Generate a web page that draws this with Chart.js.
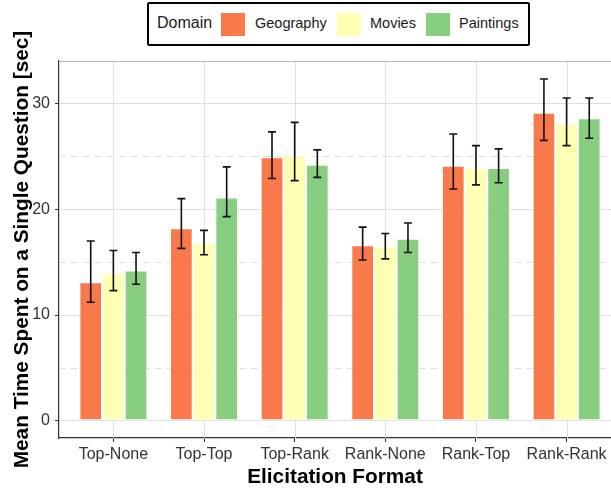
<!DOCTYPE html>
<html>
<head>
<meta charset="utf-8">
<script src="https://cdn.jsdelivr.net/npm/chart.js@4"></script>
<style>
  html, body { margin: 0; padding: 0; overflow: hidden; background: #fff; }
  #wrap { position: relative; width: 611px; height: 490px; }
  #legend {
    position: absolute; left: 147px; top: 2px; width: 379px; height: 40px;
    border: 2px solid #000; border-radius: 2px; background: #fff;
    font-family: "Liberation Sans", Arial, Helvetica, sans-serif; color: #1a1a1a;
  }
  #legend span { position: absolute; white-space: nowrap; }
  #legend .sw { width: 24px; height: 23px; top: 9px; }
  #legend .lbl { font-size: 14.5px; top: 11px; }
</style>
</head>
<body>
<div id="wrap">
  <canvas id="chart" width="611" height="490"></canvas>
  <div id="legend">
    <span style="left:8px; top:10px; font-size:16px;">Domain</span>
    <span class="sw" style="left:72px; background:#F8794A;"></span>
    <span class="lbl" style="left:106px;">Geography</span>
    <span class="sw" style="left:188px; background:#FFFFB3;"></span>
    <span class="lbl" style="left:221px;">Movies</span>
    <span class="sw" style="left:277px; background:#88CE80;"></span>
    <span class="lbl" style="left:310px;">Paintings</span>
  </div>
</div>
<script>
'use strict';

// 범주 / 값
const categories = ['Top-None', 'Top-Top', 'Top-Rank', 'Rank-None', 'Rank-Top', 'Rank-Rank'];
const seriesNames = ['Geography', 'Movies', 'Paintings'];

const geography = [13.1, 18.2, 24.9, 16.6, 24.1, 29.1];
const geoLow    = [11.2, 16.3, 22.9, 15.2, 21.9, 26.5];
const geoHigh   = [17.0, 21.0, 27.3, 18.3, 27.1, 32.3];

const movies    = [14.0, 16.8, 25.1, 16.5, 23.9, 28.1];
const movLow    = [12.3, 15.7, 22.7, 15.3, 22.3, 26.0];
const movHigh   = [16.1, 18.0, 28.2, 17.7, 26.0, 30.5];

const paintings = [14.2, 21.1, 24.2, 17.2, 23.9, 28.6];
const paiLow    = [12.9, 19.3, 23.0, 15.9, 22.5, 26.7];
const paiHigh   = [15.9, 24.0, 25.6, 18.7, 25.7, 30.5];

const yMajorTicks = [0, 10, 20, 30];
const yMinorTicks = [5, 15, 25];

const colors = ['#F8794A', '#FFFFB3', '#88CE80'];
const FONT = '"Liberation Sans", Arial, Helvetica, sans-serif';
const GRID = '#e0e0e0';

const means = [geography, movies, paintings];
const lows  = [geoLow, movLow, paiLow];
const highs = [geoHigh, movHigh, paiHigh];

// 세로 격자, 보조 격자(점선), 위쪽 테두리
const panelGrid = {
  id: 'panelGrid',
  beforeDatasetsDraw(chart) {
    const { ctx, chartArea: a, scales: { x, y } } = chart;
    ctx.save();
    ctx.strokeStyle = GRID;
    ctx.lineWidth = 1;
    categories.forEach((c, i) => {
      const px = Math.round(x.getPixelForValue(i + 1)) + 0.5;
      ctx.beginPath();
      ctx.moveTo(px, a.top);
      ctx.lineTo(px, a.bottom);
      ctx.stroke();
    });
    ctx.setLineDash([7, 5]);
    yMinorTicks.forEach(v => {
      const py = Math.round(y.getPixelForValue(v)) + 0.5;
      ctx.beginPath();
      ctx.moveTo(a.left, py);
      ctx.lineTo(a.right, py);
      ctx.stroke();
    });
    ctx.setLineDash([]);
    ctx.strokeStyle = '#b5b5b5';
    ctx.beginPath();
    ctx.moveTo(a.left, a.top + 0.5);
    ctx.lineTo(a.right, a.top + 0.5);
    ctx.stroke();
    ctx.restore();
  },
};

// 오차 막대
const errorBars = {
  id: 'errorBars',
  afterDatasetsDraw(chart) {
    const { ctx, scales: { y } } = chart;
    ctx.save();
    ctx.strokeStyle = '#111';
    ctx.lineWidth = 1.6;
    chart.data.datasets.forEach((ds, di) => {
      const meta = chart.getDatasetMeta(di);
      meta.data.forEach((bar, i) => {
        const x  = bar.x;
        const y1 = y.getPixelForValue(lows[di][i]);
        const y2 = y.getPixelForValue(highs[di][i]);
        ctx.beginPath();
        ctx.moveTo(x, y1); ctx.lineTo(x, y2);
        ctx.moveTo(x - 4, y1); ctx.lineTo(x + 4, y1);
        ctx.moveTo(x - 4, y2); ctx.lineTo(x + 4, y2);
        ctx.stroke();
      });
    });
    ctx.restore();
  },
};

new Chart(document.getElementById('chart'), {
  type: 'bar',
  data: {
    datasets: seriesNames.map((name, di) => ({
      label: name,
      data: categories.map((c, i) => ({ x: i + 1, y: means[di][i] })),
      backgroundColor: colors[di],
      borderColor: '#ffffff',
      borderWidth: 1,
      borderSkipped: false,
      categoryPercentage: 0.75,
      barPercentage: 1.0,
    })),
  },
  options: {
    responsive: false,
    animation: false,
    layout: { padding: { top: 61, right: 0, left: 0, bottom: 0 } },
    plugins: {
      legend: { display: false },
      tooltip: { enabled: false },
    },
    scales: {
      x: {
        type: 'linear',
        min: 0.4,
        max: 6.49,
        offset: false,
        afterBuildTicks: s => { s.ticks = categories.map((c, i) => ({ value: i + 1 })); },
        afterFit: s => { s.height = 52; },
        grid: { offset: false, drawOnChartArea: false, tickColor: '#333', tickLength: 4 },
        border: { color: '#333', width: 1.2 },
        ticks: {
          autoSkip: false, maxRotation: 0, padding: 3,
          color: '#333', font: { family: FONT, size: 16 },
          callback: v => categories[v - 1] ?? '',
        },
        title: {
          display: true, text: 'Elicitation Format', color: '#000',
          font: { family: FONT, size: 20.8, weight: 'bold' },
          padding: { top: 0, bottom: 0 },
        },
      },
      y: {
        min: -1.62,
        max: 34.0,
        afterBuildTicks: s => { s.ticks = yMajorTicks.map(v => ({ value: v })); },
        afterFit: s => { s.width = 59; },
        grid: { color: GRID, tickColor: '#333', tickLength: 4 },
        border: { color: '#333', width: 1.2 },
        ticks: {
          padding: 5, color: '#333', font: { family: FONT, size: 16 },
        },
        title: {
          display: true, text: 'Mean Time Spent on a Single Question [sec]', color: '#000',
          font: { family: FONT, size: 20.8, weight: 'bold' },
          padding: { top: 9.5, bottom: 0 },
        },
      },
    },
  },
  plugins: [panelGrid, errorBars],
});
</script>
</body>
</html>
